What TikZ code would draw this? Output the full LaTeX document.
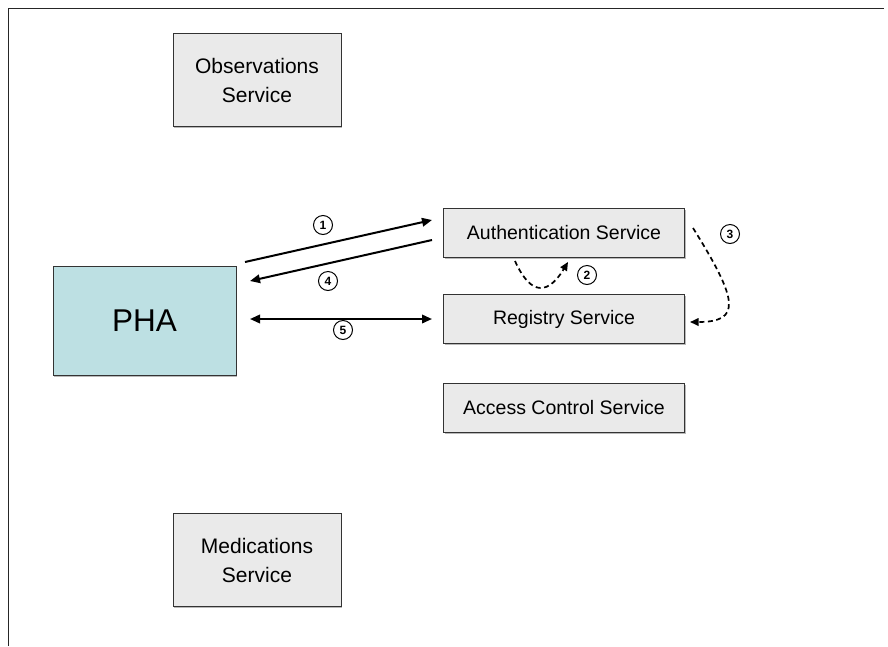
\documentclass[tikz,border=0pt]{standalone}
\usepackage{fontspec}
\setmainfont{Liberation Sans}
\usetikzlibrary{arrows.meta,shadows}
\definecolor{boxgray}{HTML}{EAEAEA}
\definecolor{phacyan}{HTML}{BDE0E3}
\definecolor{edgegray}{HTML}{333333}
\tikzset{
  svc/.style={draw=edgegray, line width=0.9pt, fill=boxgray, inner sep=0pt, align=center,
    drop shadow={shadow xshift=1.2pt, shadow yshift=-1.6pt, fill=gray!55, opacity=1}},
  bigsvc/.style={svc, minimum width=168pt, minimum height=93pt, font=\fontsize{21}{29}\selectfont},
  smallsvc/.style={svc, minimum width=241pt, minimum height=49pt, font=\fontsize{19.5}{22}\selectfont},
  phabox/.style={svc, fill=phacyan, minimum width=183pt, minimum height=109pt, font=\fontsize{31.5}{36}\selectfont},
  num/.style={circle, draw=black, line width=1pt, inner sep=0pt, minimum size=19pt, font=\fontsize{12}{14}\selectfont\bfseries},
  solidarrow/.style={line width=2pt, -{Triangle[length=10pt,width=8.5pt]}},
  dasharrow/.style={line width=1.7pt, dash pattern=on 5pt off 3.5pt, -{Triangle[length=8.5pt,width=7.5pt]}}
}
\begin{document}
\begin{tikzpicture}[x=1pt,y=-1pt]
\useasboundingbox (0,0) rectangle (888,646);
% frame
\draw[line width=1pt, draw=black!85] (8.5,646) -- (8.5,8) -- (884,8);
% boxes
\node[bigsvc] (obs) at (257,80) {Observations\\Service};
\node[bigsvc] (med) at (257,560) {Medications\\Service};
\node[phabox] (pha) at (144.5,320.5) {PHA};
\node[smallsvc] (auth) at (564,232.5) {Authentication Service};
\node[smallsvc] (reg) at (564,319) {Registry Service};
\node[smallsvc] (acc) at (564,407.5) {Access Control Service};
% anchor coordinates
\coordinate (a1s) at (245,262);
\coordinate (a1e) at (432,220);
\coordinate (a4s) at (432,240);
\coordinate (a4e) at (250,281);
\coordinate (a5s) at (250,319);
\coordinate (a5e) at (432,319);
\coordinate (d2s) at (515,261);
\coordinate (d2e) at (568,262);
\coordinate (d3s) at (693,228);
\coordinate (d3e) at (690,322);
% arrows
\draw[solidarrow] (a1s) -- (a1e);
\draw[solidarrow] (a4s) -- (a4e);
\draw[solidarrow, {Triangle[length=10pt,width=8.5pt]}-{Triangle[length=10pt,width=8.5pt]}] (a5s) -- (a5e);
\draw[dasharrow] (d2s) .. controls (528,290) and (545,300) .. (d2e);
\draw[dasharrow] (d3s) .. controls (738,300) and (742,322) .. (d3e);
% number labels
\node[num] (n1) at (323,225) {1};
\node[num] (n2) at (587,275) {2};
\node[num] (n3) at (730,234) {3};
\node[num] (n4) at (328,281) {4};
\node[num] (n5) at (343,330) {5};
\end{tikzpicture}
\end{document}
